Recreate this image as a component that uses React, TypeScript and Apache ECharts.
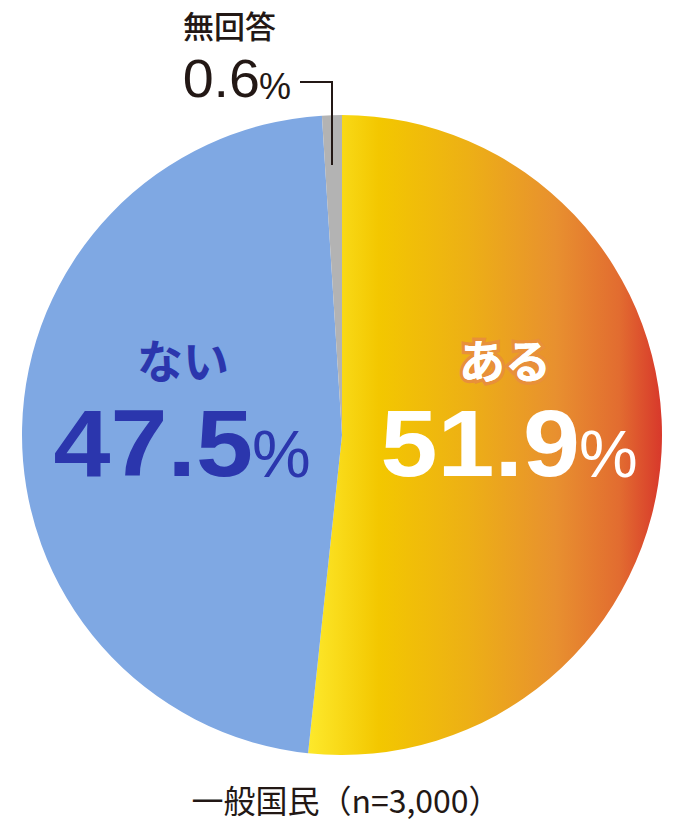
import { useEffect, useRef } from "react";
import * as echarts from "echarts";

const categories = ["ある", "ない", "無回答"];
const values = [51.9, 47.5, 0.6];
const sampleLabel = "一般国民（n=3,000）";

const jp = '"Noto Sans CJK JP", sans-serif';
const num = '"Liberation Sans", Arial, sans-serif';

export default function App() {
  const ref = useRef<HTMLDivElement | null>(null);

  useEffect(() => {
    document.body.style.margin = "0";
    if (!ref.current) return;
    const chart = echarts.init(ref.current, null, { renderer: "svg" });

    const yesGradient = new echarts.graphic.LinearGradient(0, 0, 1, 0, [
      { offset: 0, color: "#fde92c" },
      { offset: 0.2, color: "#f3c700" },
      { offset: 0.45, color: "#edb015" },
      { offset: 0.7, color: "#e8902f" },
      { offset: 0.88, color: "#e26c30" },
      { offset: 1, color: "#d8382b" }
    ]);

    const text = (
      x: number,
      y: number,
      t: string,
      style: Record<string, unknown>,
      scaleX = 1
    ) => ({
      type: "text",
      x,
      y,
      z: 100,
      scaleX,
      silent: true,
      style: { text: t, verticalAlign: "middle", ...style }
    });

    chart.setOption({
      animation: false,
      series: [
        {
          type: "pie",
          center: [342, 435],
          radius: [0, 320],
          startAngle: 90,
          clockwise: true,
          minAngle: 3.6,
          label: { show: false },
          labelLine: { show: false },
          silent: true,
          data: [
            { name: categories[0], value: values[0], itemStyle: { color: yesGradient } },
            { name: categories[1], value: values[1], itemStyle: { color: "#7fa8e3" } },
            { name: categories[2], value: values[2], itemStyle: { color: "#b3b3b3" } }
          ]
        }
      ],
      graphic: [
        text(505, 358, categories[0], {
          fill: "#ffffff",
          stroke: "#e8903a",
          lineWidth: 7,
          font: `bold 46px ${jp}`,
          align: "center"
        }),
        text(505, 358, categories[0], {
          fill: "#ffffff",
          font: `bold 46px ${jp}`,
          align: "center"
        }),
        text(
          580,
          443,
          values[0].toFixed(1),
          { fill: "#ffffff", font: `bold 94px ${num}`, align: "right" },
          1.09
        ),
        text(579, 454, "%", {
          fill: "#ffffff",
          font: `66px ${num}`,
          align: "left"
        }),
        text(183, 358, categories[1], {
          fill: "#2b36ad",
          font: `bold 46px ${jp}`,
          align: "center"
        }),
        text(
          253,
          443,
          values[1].toFixed(1),
          { fill: "#2b36ad", font: `bold 94px ${num}`, align: "right" },
          1.09
        ),
        text(252, 454, "%", {
          fill: "#2b36ad",
          font: `66px ${num}`,
          align: "left"
        }),
        text(183, 24, categories[2], {
          fill: "#231815",
          font: `500 31px ${jp}`,
          align: "left"
        }),
        text(
          260,
          79,
          values[2].toFixed(1),
          { fill: "#231815", font: `53px ${num}`, align: "right" },
          1.05
        ),
        text(259, 86, "%", {
          fill: "#231815",
          font: `36px ${num}`,
          align: "left"
        }),
        {
          type: "polyline",
          z: 100,
          shape: { points: [[300, 82], [332, 82], [332, 165]] },
          style: { stroke: "#231815", lineWidth: 2, fill: "none" }
        },
        text(346, 799, sampleLabel, {
          fill: "#231815",
          font: `400 32px ${jp}`,
          align: "center"
        })
      ]
    });

    return () => chart.dispose();
  }, []);

  return <div ref={ref} style={{ width: 684, height: 824 }} />;
}
